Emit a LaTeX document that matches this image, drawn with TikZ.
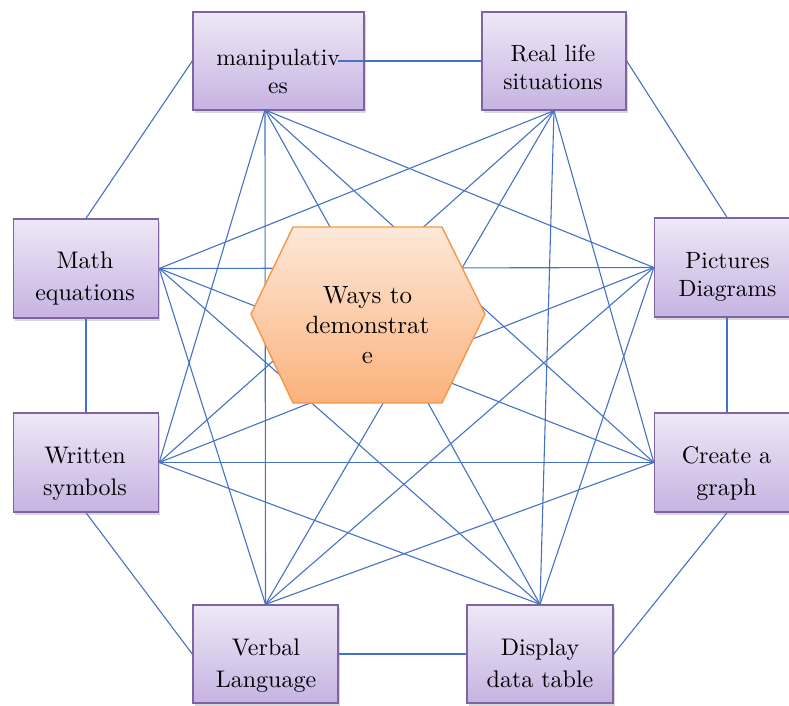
\documentclass[tikz,border=0pt]{standalone}
\usepackage{fontspec}
\setmainfont{lmroman10-regular}[Extension=.otf]
\usetikzlibrary{shadows,calc}
\definecolor{lineblue}{HTML}{4472C4}
\definecolor{boxborder}{HTML}{8064A2}
\definecolor{boxtop}{HTML}{EEE8F6}
\definecolor{boxbot}{HTML}{C6B3E2}
\definecolor{hexborder}{HTML}{F79646}
\definecolor{hextop}{HTML}{FDE8D8}
\definecolor{hexbot}{HTML}{FBB27C}
\definecolor{txt}{HTML}{000000}
\begin{document}
\begin{tikzpicture}[x=1pt,y=-1pt,
  box/.style={draw=boxborder, line width=1.4pt, top color=boxtop, bottom color=boxbot,
    minimum height=98pt, minimum width=145pt, inner sep=0pt,
    drop shadow={opacity=0.3, shadow xshift=1.5pt, shadow yshift=-2.5pt}},
  conn/.style={lineblue, line width=1.1pt},
  lbl/.style={font=\fontsize{24}{32}\selectfont, align=center, text=txt, inner sep=0pt},
  lbls/.style={lbl, font=\fontsize{23.5}{28}\selectfont},
  hex/.style={draw=hexborder, line width=1.4pt, top color=hextop, bottom color=hexbot}]
\useasboundingbox (0,0) rectangle (789,705);
\clip (0,0) rectangle (789,705);
% boxes
\node[box, minimum width=171pt] (M) at (278.5,61) {};
\node[box, minimum width=144pt] (R) at (554,61) {};
\node[box, minimum height=99pt] (E) at (86,268.5) {};
\node[box, minimum height=99pt] (P) at (727,267.5) {};
\node[box, minimum height=99pt] (W) at (86,462.5) {};
\node[box, minimum height=99pt] (C) at (727,462.5) {};
\node[box] (V) at (265.5,654) {};
\node[box, minimum width=146pt] (D) at (540,654) {};
% labels
\node[lbls] (Mt) at (278,71) {manipulativ\\es};
\node[lbls] (Rt) at (553,67.5) {Real life\\situations};
\node[lbl]  (Et) at (85,278.5) {Math\\equations};
\node[lbls] (Pt) at (727.5,276.5) {Pictures\\Diagrams};
\node[lbl]  (Wt) at (85,474) {Written\\symbols};
\node[lbl]  (Ct) at (726.5,474) {Create a\\graph};
\node[lbl]  (Vt) at (266,666) {Verbal\\Language};
\node[lbl]  (Dt) at (540,663.5) {Display\\data table};
% special anchors
\coordinate (Mb) at (265,110);
\coordinate (Mr) at (338,61);
% octagon edges
\draw[conn] (Mr) -- (R.west);
\draw[conn] (M.west) -- (E.north);
\draw[conn] (R.east) -- (P.north);
\draw[conn] (E.south) -- (W.north);
\draw[conn] (P.south) -- (C.north);
\draw[conn] (W.south) -- (V.west);
\draw[conn] (C.south) -- (D.east);
\draw[conn] (V.east) -- (D.west);
% diagonals
\draw[conn] (Mb) -- (P.west);
\draw[conn] (Mb) -- (C.west);
\draw[conn] (Mb) -- (D.north);
\draw[conn] (Mb) -- (V.north);
\draw[conn] (Mb) -- (W.east);
\draw[conn] (R.south) -- (C.west);
\draw[conn] (R.south) -- (D.north);
\draw[conn] (R.south) -- (V.north);
\draw[conn] (R.south) -- (W.east);
\draw[conn] (R.south) -- (E.east);
\draw[conn] (P.west) -- (D.north);
\draw[conn] (P.west) -- (V.north);
\draw[conn] (P.west) -- (W.east);
\draw[conn] (P.west) -- (E.east);
\draw[conn] (C.west) -- (V.north);
\draw[conn] (C.west) -- (W.east);
\draw[conn] (C.west) -- (E.east);
\draw[conn] (D.north) -- (W.east);
\draw[conn] (D.north) -- (E.east);
\draw[conn] (V.north) -- (E.east);
% hexagon
\coordinate (h1) at (251,314);
\coordinate (h2) at (293,227);
\coordinate (h3) at (442,227);
\coordinate (h4) at (485,314);
\coordinate (h5) at (442,403);
\coordinate (h6) at (293,403);
\path[hex] (h1) -- (h2) -- (h3) -- (h4) -- (h5) -- (h6) -- cycle;
\node[lbl, font=\fontsize{25}{30}\selectfont] (Ht) at (367.5,325) {Ways to\\demonstrat\\e};
\end{tikzpicture}
\end{document}
